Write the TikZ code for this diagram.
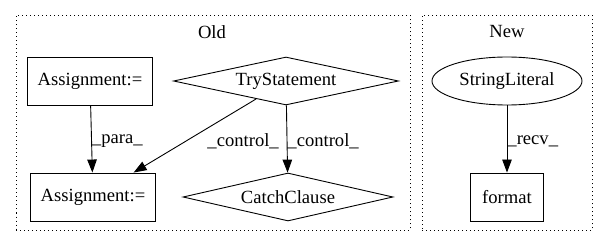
\documentclass[tikz,border=0pt]{standalone}
\usepackage{fontspec}
\setmainfont{Liberation Serif}
\usetikzlibrary{arrows.meta,shapes.geometric}

\begin{document}
\begin{tikzpicture}[x=1pt,y=-1pt,
            every node/.style={align=center,font=\fontsize{18.6}{22}\selectfont},
            cluster/.style={draw,line width=1pt,dash pattern=on 1pt off 3pt,inner sep=0pt},
            stmt/.style={draw,line width=.9pt,minimum width=125pt,minimum height=48pt,inner sep=0pt},
            branch/.style={draw,diamond,aspect=4.6,line width=.9pt,minimum height=48pt,inner sep=0pt},
            literal/.style={draw,ellipse,line width=.9pt,minimum width=150pt,minimum height=48pt,inner sep=0pt},
            link/.style={-{Triangle[length=13pt,width=9.5pt]},line width=.9pt},
            lbl/.style={right,inner sep=0pt}]

            \useasboundingbox (0,0) rectangle (608,248);

            \node[cluster,minimum width=394pt,minimum height=215pt] (old) at (213,123) {};
            \node[cluster,minimum width=170pt,minimum height=215pt] (new) at (507,123) {};
            \node (oldname) at (212,32) {Old};
            \node (newname) at (507,32) {New};

            \node[stmt] (assignA) at (90,81) {Assignment:=};
            \node[stmt] (assignB) at (93,197) {Assignment:=};
            \node[branch,minimum width=225pt] (try) at (286,81) {TryStatement};
            \node[branch,minimum width=210pt] (catch) at (288,197) {CatchClause};
            \node[literal] (strlit) at (507,81) {StringLiteral};
            \node[stmt,minimum width=73pt] (fmt) at (507,197) {format};

            \draw[link] (assignA) -- node[lbl,midway,yshift=-2pt] {\_para\_} (assignB);
            \draw[link] (try) -- node[lbl,pos=.58,xshift=22pt] {\_control\_} (assignB);
            \draw[link] (try) -- node[lbl,midway,yshift=-2pt] {\_control\_} (catch);
            \draw[link] (strlit) -- node[lbl,midway,yshift=-2pt] {\_recv\_} (fmt);
        \end{tikzpicture}
\end{document}
